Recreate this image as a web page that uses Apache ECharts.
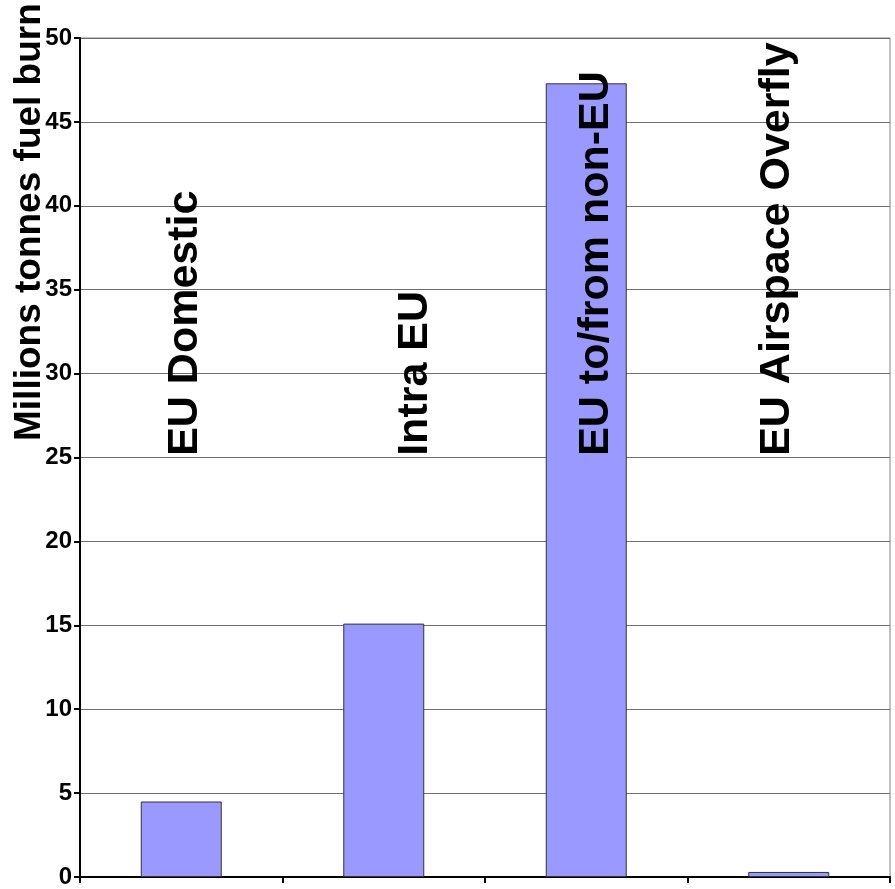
<!DOCTYPE html>
<html>
<head>
<meta charset="utf-8">
<script src="https://cdn.jsdelivr.net/npm/echarts@6/dist/echarts.min.js"></script>
<style>
  html, body { margin: 0; padding: 0; background: #ffffff; }
  #chart { width: 895px; height: 889px; }
</style>
</head>
<body>
<div id="chart"></div>
<script>
// Fuel burn by flight category (millions of tonnes)
const categories = ['EU Domestic', 'Intra EU', 'EU to/from non-EU', 'EU Airspace Overfly'];
const fuelBurn = [4.5, 15.1, 47.3, 0.3];
const yTicks = [0, 5, 10, 15, 20, 25, 30, 35, 40, 45, 50];
const axisTitle = 'Millions tonnes fuel burn';

// Where the vertical category captions sit: value level of their baseline end
const captionLevel = 25.1;
// Horizontal nudge of each caption relative to its category centre (px)
const captionShift = [4, 31, 10, -12];

const FONT = 'Liberation Sans, Arial, Helvetica, sans-serif';

const chart = echarts.init(document.getElementById('chart'), null, { renderer: 'canvas' });

chart.setOption({
  backgroundColor: '#ffffff',
  animation: false,
  grid: {
    left: 80, right: 5, top: 38, bottom: 9,
    show: true, borderColor: '#808080', borderWidth: 1, backgroundColor: 'transparent'
  },
  xAxis: {
    type: 'category',
    data: categories,
    boundaryGap: true,
    axisLine: { show: true, lineStyle: { color: '#000', width: 2 } },
    axisTick: { show: true, alignWithLabel: false, length: 6, lineStyle: { color: '#000', width: 2 } },
    axisLabel: { show: false },
    splitLine: { show: false }
  },
  yAxis: {
    type: 'value',
    min: yTicks[0],
    max: yTicks[yTicks.length - 1],
    interval: yTicks[1] - yTicks[0],
    axisLine: { show: true, lineStyle: { color: '#000', width: 2 } },
    axisTick: { show: true, length: 6, lineStyle: { color: '#000', width: 2 } },
    axisLabel: {
      margin: 8,
      color: '#000',
      fontFamily: FONT,
      fontWeight: 'bold',
      fontSize: 24
    },
    splitLine: { show: true, lineStyle: { color: '#6e6e6e', width: 1 } }
  },
  graphic: [{
    type: 'text',
    x: 30,
    y: 441,
    rotation: Math.PI / 2,
    style: {
      text: axisTitle,
      font: 'bold 37px ' + FONT,
      fill: '#000',
      align: 'left',
      verticalAlign: 'middle'
    }
  }],
  series: [
    {
      type: 'bar',
      data: fuelBurn,
      barWidth: '40%',
      itemStyle: { color: '#9999FF', borderColor: '#333333', borderWidth: 1 },
      z: 2
    },
    {
      type: 'custom',
      data: categories.map((c, i) => [i, captionLevel]),
      z: 5,
      silent: true,
      renderItem: function (params, api) {
        const i = params.dataIndex;
        const p = api.coord([api.value(0), api.value(1)]);
        return {
          type: 'text',
          x: p[0] + captionShift[i],
          y: p[1],
          rotation: Math.PI / 2,
          style: {
            text: categories[i],
            font: 'bold 43px ' + FONT,
            fill: '#000',
            align: 'left',
            verticalAlign: 'middle'
          }
        };
      }
    }
  ]
});
</script>
</body>
</html>
